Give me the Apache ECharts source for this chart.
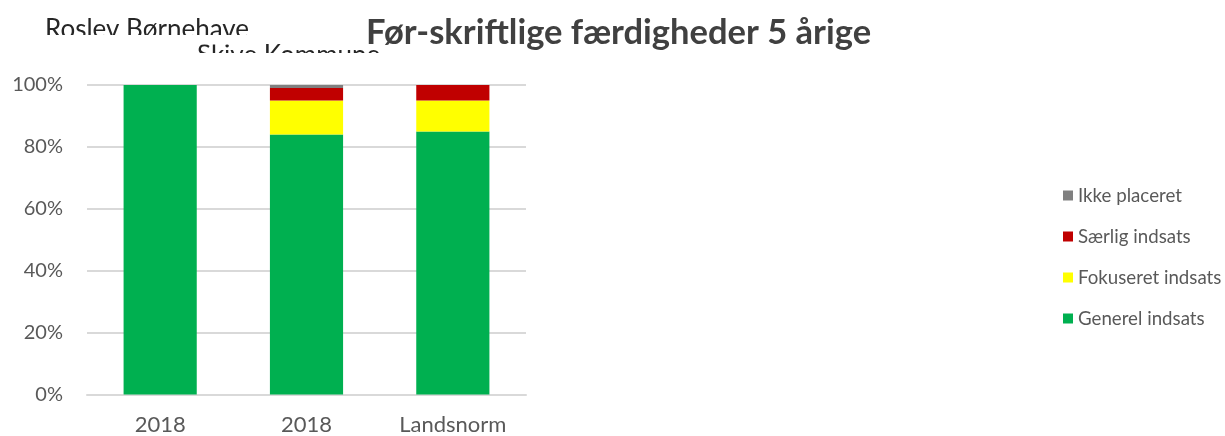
<!DOCTYPE html>
<html>
<head>
<meta charset="utf-8">
<script src="https://cdn.jsdelivr.net/npm/echarts@6/dist/echarts.min.js"></script>
<style>
html,body{margin:0;padding:0;background:#fff;}
#chart{width:1225px;height:436px;}
</style>
</head>
<body>
<div id="chart"></div>
<script>
const categories = ['2018', '2018', 'Landsnorm'];
const generel = [100, 84, 85];
const fokuseret = [0, 11, 10];
const saerlig = [0, 4, 5];
const ikkePlaceret = [0, 1, 0];
const yTicks = [0, 20, 40, 60, 80, 100];

const FONT = 'Lato, "Open Sans", sans-serif';
const chart = echarts.init(document.getElementById('chart'), null, {renderer: 'canvas'});

function bar(name, data, color) {
  return {
    name: name, type: 'bar', stack: 'total', data: data, barWidth: '50%',
    itemStyle: {color: color}, emphasis: {disabled: true}
  };
}

chart.setOption({
  animation: false,
  backgroundColor: '#ffffff',
  textStyle: {fontFamily: FONT},
  grid: {left: 87, right: 699, top: 85, bottom: 41.5, containLabel: false},
  xAxis: {
    type: 'category', data: categories,
    axisLine: {lineStyle: {color: '#d9d9d9', width: 2}},
    axisTick: {show: false},
    axisLabel: {color: '#595959', fontSize: 22, margin: 19, fontFamily: FONT}
  },
  yAxis: {
    type: 'value', min: yTicks[0], max: yTicks[yTicks.length - 1], interval: 20,
    axisLine: {show: false}, axisTick: {show: false},
    splitLine: {lineStyle: {color: '#d9d9d9', width: 2}},
    axisLabel: {color: '#595959', fontSize: 20, margin: 24, formatter: '{value}%', fontFamily: FONT}
  },
  legend: {
    orient: 'vertical', left: 1058, top: 181,
    itemWidth: 10, itemHeight: 10, itemGap: 22,
    icon: 'rect',
    data: ['Ikke placeret', 'Særlig indsats', 'Fokuseret indsats', 'Generel indsats'],
    textStyle: {color: '#595959', fontSize: 18.7, lineHeight: 18, fontFamily: FONT}
  },
  graphic: [
    {type: 'text', left: 45, top: 16.5, z: 10,
     style: {text: 'Roslev Børnehave', fill: '#262626', font: '26px ' + FONT}},
    {type: 'text', left: 197, top: 42.5, z: 10,
     style: {text: 'Skive Kommune', fill: '#262626', font: '26px ' + FONT}},
    {type: 'rect', left: 35, top: 35, z: 20, shape: {width: 220, height: 9.5}, style: {fill: '#ffffff'}},
    {type: 'rect', left: 190, top: 53, z: 20, shape: {width: 205, height: 22}, style: {fill: '#ffffff'}},
    {type: 'text', left: 366, top: 15, z: 10,
     style: {text: 'Før-skriftlige færdigheder 5 årige', fill: '#404040', font: 'bold 34.5px ' + FONT}}
  ],
  series: [
    bar('Generel indsats', generel, '#00b050'),
    bar('Fokuseret indsats', fokuseret, '#ffff00'),
    bar('Særlig indsats', saerlig, '#c00000'),
    bar('Ikke placeret', ikkePlaceret, '#808080')
  ]
});
</script>
</body>
</html>
